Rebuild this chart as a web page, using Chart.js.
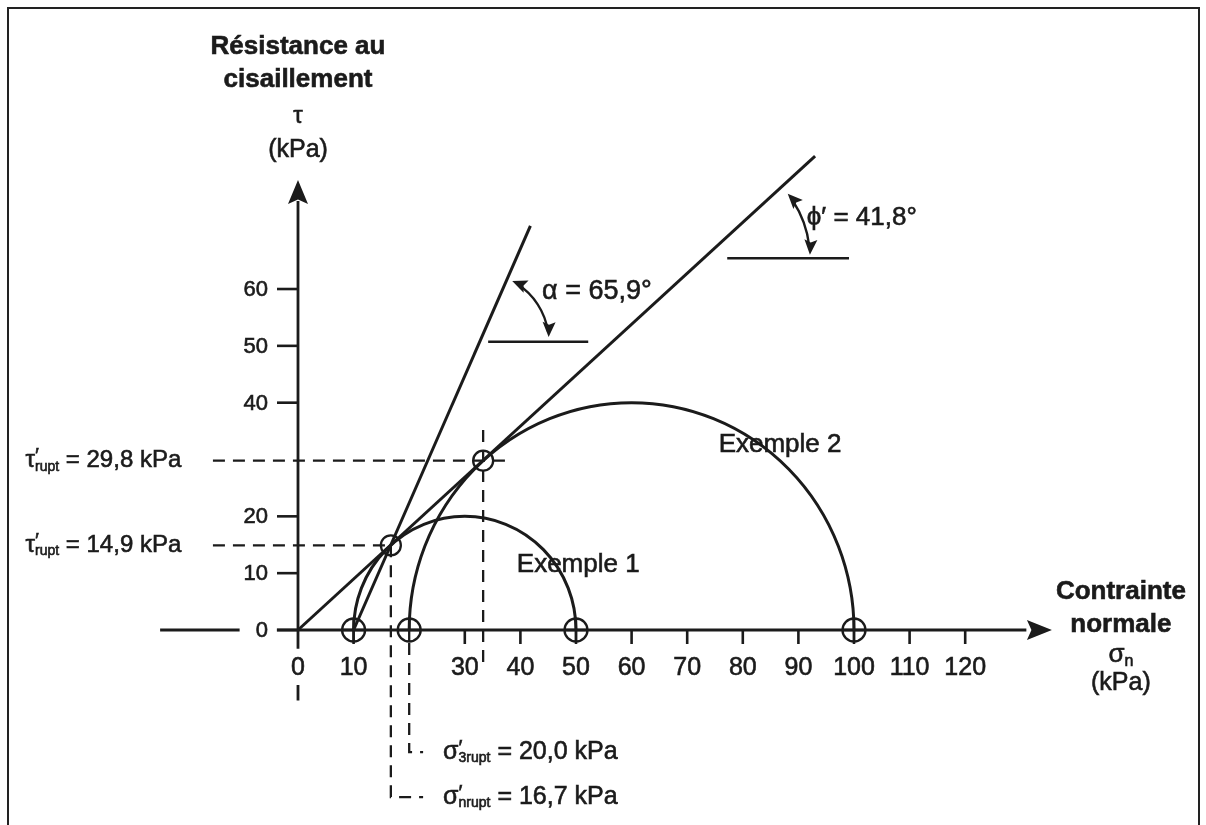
<!DOCTYPE html>
<html>
<head>
<meta charset="utf-8">
<script src="https://cdn.jsdelivr.net/npm/chart.js@4.4.1/dist/chart.umd.min.js"></script>
<style>
  html, body { margin: 0; padding: 0; background: #fff; overflow: hidden; }
  #wrap { position: relative; width: 1206px; height: 825px; }
  #frame { position: absolute; left: 7px; top: 7px; width: 1189px; height: 840px;
           border: 2px solid #222; pointer-events: none; }
</style>
</head>
<body>
<div id="wrap">
  <canvas id="chart" width="1206" height="825"></canvas>
  <div id="frame"></div>
</div>
<script>
// Mohr circles (kPa): Exemple 1, Exemple 2
const sigma3 = [10, 20];
const sigma1 = [50, 100];
// rupture points (tangency with the envelope)
const sigmaRupt = [16.7, 33.3];
const tauRupt = [14.9, 29.8];
const sigma3Rupt = 20.0;
// lines
const envelopeLine = [{ x: 0, y: 0 }, { x: 93, y: 83.4 }];      // phi' = 41,8
const steepLine = [{ x: 10, y: 0 }, { x: 41.8, y: 71.1 }];      // alpha = 65,9
const alphaRef = [{ x: 34.2, y: 50.7 }, { x: 52.2, y: 50.7 }];
const phiRef = [{ x: 77.2, y: 65.4 }, { x: 99.1, y: 65.4 }];
// ticks
const xTicks = [0, 10, 30, 40, 50, 60, 70, 80, 90, 100, 110, 120];
const yTicks = [0, 10, 20, 40, 50, 60];

const ink = '#1b1b1b';
const FONT = '"Liberation Sans", Arial, Helvetica, sans-serif';

const markerPts = sigma3.concat(sigma1).map(v => ({ x: v, y: 0 }));
const ruptPts = sigmaRupt.map((s, i) => ({ x: s, y: tauRupt[i] }));

function solid(data, w) {
  return { data, showLine: true, borderColor: ink, borderWidth: w || 3, pointRadius: 0, fill: false };
}
function dashed(data) {
  return { data, showLine: true, borderColor: ink, borderWidth: 2.3, borderDash: [12, 8], pointRadius: 0, fill: false };
}

const datasets = [
  // axes
  solid([{ x: -24.8, y: 0 }, { x: -10.5, y: 0 }], 2.8),
  solid([{ x: -3.8, y: 0 }, { x: 131, y: 0 }], 2.8),
  solid([{ x: 0, y: -3.3 }, { x: 0, y: 75.5 }], 2.8),
  solid([{ x: 0, y: -9.7 }, { x: 0, y: -12.4 }], 2.8),
  // envelope lines
  solid(envelopeLine),
  solid(steepLine),
  solid(alphaRef, 2.5),
  solid(phiRef, 2.5),
  // dashed guides
  dashed([{ x: -15.3, y: tauRupt[1] }, { x: 37.6, y: tauRupt[1] }]),
  dashed([{ x: -15.3, y: tauRupt[0] }, { x: sigmaRupt[0], y: tauRupt[0] }]),
  dashed([{ x: sigmaRupt[1], y: 35.2 }, { x: sigmaRupt[1], y: -6.5 }]),
  dashed([{ x: sigmaRupt[0], y: tauRupt[0] }, { x: sigmaRupt[0], y: -29.4 }, { x: 22.5, y: -29.4 }]),
  dashed([{ x: sigma3Rupt, y: -2.3 }, { x: sigma3Rupt, y: -21.5 }, { x: 22.5, y: -21.5 }]),
  // markers
  { data: markerPts, pointStyle: 'circle', pointRadius: 11.5, borderColor: ink, borderWidth: 2.3, backgroundColor: 'rgba(0,0,0,0)', showLine: false },
  { data: markerPts, pointStyle: 'cross', pointRadius: 11.5, borderColor: ink, borderWidth: 2.3, showLine: false },
  { data: ruptPts, pointStyle: 'circle', pointRadius: 10, borderColor: ink, borderWidth: 2.3, backgroundColor: 'rgba(0,0,0,0)', showLine: false }
];

function runText(ctx, x, y, parts, align) {
  let total = 0;
  parts.forEach(p => {
    ctx.font = (p.bold ? 'bold ' : '') + p.size + 'px ' + FONT;
    p.w = ctx.measureText(p.t).width;
    if (!p.noAdv) total += p.w;
  });
  let cx = align === 'center' ? x - total / 2 : x;
  ctx.textAlign = 'left';
  ctx.textBaseline = 'middle';
  ctx.lineWidth = 0.6;
  parts.forEach(p => {
    ctx.font = (p.bold ? 'bold ' : '') + p.size + 'px ' + FONT;
    ctx.fillText(p.t, cx, y + (p.dy || 0));
    ctx.strokeText(p.t, cx, y + (p.dy || 0));
    if (!p.noAdv) cx += p.w;
  });
}

function arrowHead(ctx, x, y, ang, len, half) {
  ctx.save();
  ctx.translate(x, y);
  ctx.rotate(ang);
  ctx.beginPath();
  ctx.moveTo(0, 0);
  ctx.lineTo(-len, -half);
  ctx.lineTo(-len * 0.82, 0);
  ctx.lineTo(-len, half);
  ctx.closePath();
  ctx.fill();
  ctx.restore();
}

function angleArc(ctx, cx, cy, r, a1, a2) {
  const t1 = a1 * Math.PI / 180, t2 = a2 * Math.PI / 180;
  ctx.beginPath();
  ctx.arc(cx, cy, r, t1 + 0.08, t2 - 0.08);
  ctx.stroke();
  arrowHead(ctx, cx + r * Math.cos(t1), cy + r * Math.sin(t1), t1 - Math.PI / 2 - 0.1, 15, 6.5);
  arrowHead(ctx, cx + r * Math.cos(t2), cy + r * Math.sin(t2), t2 + Math.PI / 2 + 0.1, 15, 6.5);
}

const drawing = {
  id: 'drawing',
  afterDatasetsDraw(chart) {
    const ctx = chart.ctx;
    const X = v => chart.scales.x.getPixelForValue(v);
    const Y = v => chart.scales.y.getPixelForValue(v);
    ctx.save();
    ctx.strokeStyle = ink;
    ctx.fillStyle = ink;

    // Mohr semicircles
    ctx.lineWidth = 3;
    sigma3.forEach((s3, i) => {
      const c = (s3 + sigma1[i]) / 2, r = (sigma1[i] - s3) / 2;
      const cx = X(c), cy = Y(0);
      ctx.beginPath();
      ctx.ellipse(cx, cy, X(c + r) - cx, cy - Y(r), 0, Math.PI, 2 * Math.PI);
      ctx.stroke();
    });

    // axis arrows
    arrowHead(ctx, X(135.6), Y(0), 0, 25, 10);
    arrowHead(ctx, X(0), Y(79.2), -Math.PI / 2, 24, 10);

    // ticks
    ctx.lineWidth = 2.6;
    yTicks.forEach(v => {
      ctx.beginPath(); ctx.moveTo(X(0) - 21, Y(v)); ctx.lineTo(X(0), Y(v)); ctx.stroke();
    });
    xTicks.filter(v => v > 0).forEach(v => {
      ctx.beginPath(); ctx.moveTo(X(v), Y(0)); ctx.lineTo(X(v), Y(0) + 14); ctx.stroke();
    });

    // tick labels
    ctx.lineWidth = 0.6;
    ctx.font = '22px ' + FONT;
    ctx.textAlign = 'right';
    ctx.textBaseline = 'middle';
    yTicks.forEach(v => {
      ctx.fillText(String(v), X(0) - 30, Y(v) + 1);
      ctx.strokeText(String(v), X(0) - 30, Y(v) + 1);
    });
    ctx.font = '25px ' + FONT;
    ctx.textAlign = 'center';
    xTicks.forEach(v => {
      ctx.fillText(String(v), X(v), Y(0) + 38);
      ctx.strokeText(String(v), X(v), Y(0) + 38);
    });

    // angle arcs
    ctx.lineWidth = 2.3;
    angleArc(ctx, X(32.7), Y(50.7), 69, -62, -4);
    angleArc(ctx, X(73.2), Y(65.4), 105, -38, -2);

    // axis titles
    runText(ctx, X(0), Y(102.6), [{ t: 'Résistance au', size: 26, bold: true }], 'center');
    runText(ctx, X(0), Y(96.8), [{ t: 'cisaillement', size: 26, bold: true }], 'center');
    runText(ctx, X(0), Y(90.3), [{ t: 'τ', size: 24 }], 'center');
    runText(ctx, X(0), Y(84.5), [{ t: '(kPa)', size: 25 }], 'center');

    runText(ctx, X(148), Y(6.7), [{ t: 'Contrainte', size: 26, bold: true }], 'center');
    runText(ctx, X(148), Y(0.9), [{ t: 'normale', size: 26, bold: true }], 'center');
    runText(ctx, X(148), Y(-4.4), [{ t: 'σ', size: 26 }, { t: 'n', size: 16, dy: 7 }], 'center');
    runText(ctx, X(148), Y(-9.3), [{ t: '(kPa)', size: 25 }], 'center');

    // annotations
    tauRupt.slice().reverse().forEach(t => {
      runText(ctx, X(-49), Y(t), [
        { t: 'τ', size: 24 }, { t: '′', size: 21, dy: -4, noAdv: true },
        { t: 'rupt', size: 14, dy: 6 },
        { t: ' = ' + t.toFixed(1).replace('.', ',') + ' kPa', size: 24 }
      ]);
    });
    runText(ctx, X(26.1), Y(-21.5), [
      { t: 'σ', size: 25 }, { t: '′', size: 21, dy: -4, noAdv: true },
      { t: '3rupt', size: 14, dy: 6 },
      { t: ' = ' + sigma3Rupt.toFixed(1).replace('.', ',') + ' kPa', size: 25 }
    ]);
    runText(ctx, X(26.1), Y(-29.4), [
      { t: 'σ', size: 25 }, { t: '′', size: 21, dy: -4, noAdv: true },
      { t: 'nrupt', size: 14, dy: 6 },
      { t: ' = ' + sigmaRupt[0].toFixed(1).replace('.', ',') + ' kPa', size: 25 }
    ]);
    runText(ctx, X(43.9), Y(59.5), [{ t: 'α = 65,9°', size: 27 }]);
    runText(ctx, X(91.5), Y(72.5), [{ t: 'ϕ′ = 41,8°', size: 26 }]);
    runText(ctx, X(86.7), Y(32.6), [{ t: 'Exemple 2', size: 26 }], 'center');
    runText(ctx, X(50.4), Y(11.4), [{ t: 'Exemple 1', size: 26 }], 'center');

    ctx.restore();
  }
};

new Chart(document.getElementById('chart'), {
  type: 'scatter',
  data: { datasets },
  options: {
    responsive: false,
    animation: false,
    devicePixelRatio: 1,
    layout: { padding: 0, autoPadding: false },
    plugins: { legend: { display: false }, tooltip: { enabled: false }, title: { display: false } },
    scales: {
      x: { type: 'linear', display: false, bounds: 'data', min: -53.597, max: 163.31 },
      y: { type: 'linear', display: false, bounds: 'data', min: -34.313, max: 110.857 }
    }
  },
  plugins: [drawing]
});
</script>
</body>
</html>
